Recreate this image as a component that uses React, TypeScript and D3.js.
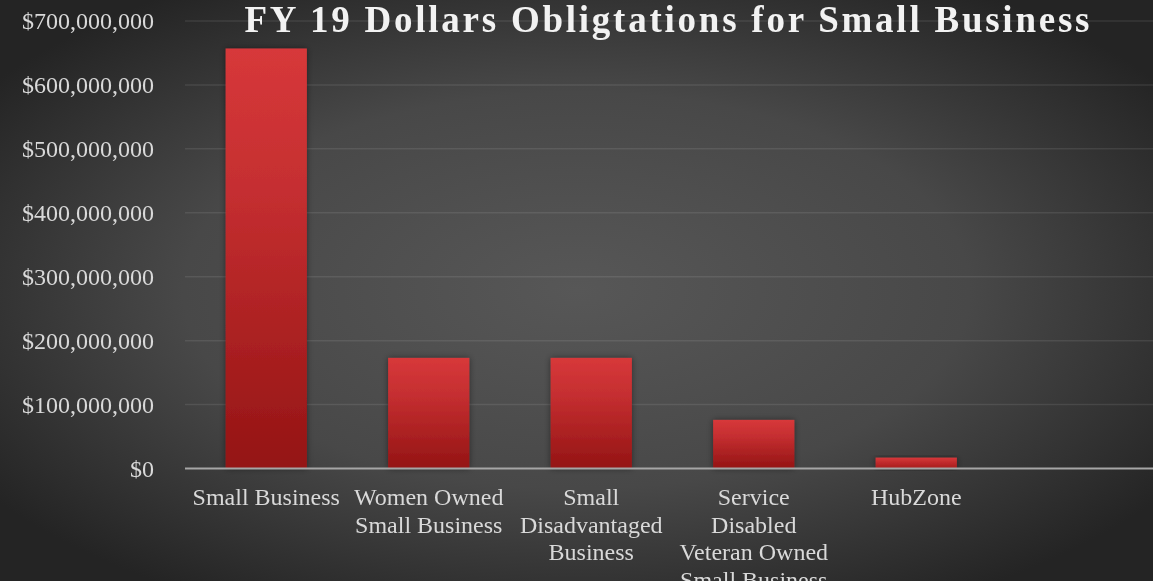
import React from "react";
import * as d3 from "d3";

const categories = [
  "Small Business",
  "Women Owned\nSmall Business",
  "Small\nDisadvantaged\nBusiness",
  "Service\nDisabled\nVeteran Owned\nSmall Business",
  "HubZone",
  "",
];
const values = [657000000, 173000000, 173000000, 76000000, 17000000, 0];
const yTicks = [0, 100000000, 200000000, 300000000, 400000000, 500000000, 600000000, 700000000];
const title = "FY 19 Dollars Obligtations for Small Business";

const W = 1153;
const H = 581;
const FONT = "'Liberation Serif', 'Times New Roman', 'DejaVu Serif', serif";

export default function App() {
  const x = d3.scaleBand<string>().domain(categories).range([185, 1160]).paddingInner(0.5).paddingOuter(0.25);
  const y = d3.scaleLinear().domain([0, 700000000]).range([468.5, 21]);
  const fmt = (v: number) => "$" + d3.format(",")(v);

  return (
    <svg width={W} height={H} style={{ position: "fixed", left: 0, top: 0, fontFamily: FONT }}>
      <defs>
        <radialGradient id="bg" cx="0.5" cy="0.5" r="0.62" gradientUnits="objectBoundingBox">
          <stop offset="0" stopColor="#575757" />
          <stop offset="0.55" stopColor="#484848" />
          <stop offset="1" stopColor="#242424" />
        </radialGradient>
        <linearGradient id="bar" x1="0" y1="0" x2="0" y2="1">
          <stop offset="0" stopColor="#d7383a" />
          <stop offset="0.35" stopColor="#c42e30" />
          <stop offset="1" stopColor="#941414" />
        </linearGradient>
        <linearGradient id="barSmall" x1="0" y1="0" x2="0" y2="1">
          <stop offset="0" stopColor="#d7383a" />
          <stop offset="1" stopColor="#a51b1c" />
        </linearGradient>
        <filter id="shadow" x="-20%" y="-20%" width="140%" height="140%">
          <feDropShadow dx="0" dy="0" stdDeviation="3" floodColor="#000" floodOpacity="0.45" />
        </filter>
      </defs>
      <rect x={0} y={0} width={W} height={H} fill="url(#bg)" />

      {yTicks.map((t) => (
        <g key={t}>
          {t !== 0 && (
            <line x1={185} x2={W} y1={y(t)} y2={y(t)} stroke="#ffffff" strokeOpacity={0.09} strokeWidth={1.5} />
          )}
          <text x={154} y={y(t) + 8} textAnchor="end" fontSize={24} fill="#d9d9d9" fontFamily={FONT}>
            {fmt(t)}
          </text>
        </g>
      ))}

      {categories.map((c, i) =>
        values[i] > 0 ? (
          <rect
            key={"b" + i}
            x={x(c)!}
            y={y(values[i])}
            width={x.bandwidth()}
            height={y(0) - y(values[i])}
            fill={values[i] < 30000000 ? "url(#barSmall)" : "url(#bar)"}
            filter="url(#shadow)"
          />
        ) : null
      )}

      <line x1={185} x2={W} y1={y(0)} y2={y(0)} stroke="#a6a6a6" strokeWidth={2} />

      {categories.map((c, i) => (
        <text key={"l" + i} x={x(c)! + x.bandwidth() / 2} y={505} textAnchor="middle" fontSize={24} fill="#d9d9d9" fontFamily={FONT}>
          {c.split("\n").map((line, j) => (
            <tspan key={j} x={x(c)! + x.bandwidth() / 2} y={505 + j * 27.6}>
              {line}
            </tspan>
          ))}
        </text>
      ))}

      <text
        x={667}
        y={32}
        textAnchor="middle"
        fontSize={37}
        fontWeight="bold"
        fill="#f2f2f2"
        fontFamily={FONT}
        textLength={845}
        lengthAdjust="spacing"
      >
        {title}
      </text>
    </svg>
  );
}
